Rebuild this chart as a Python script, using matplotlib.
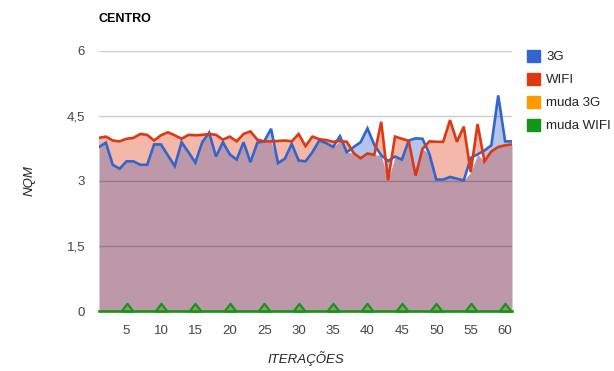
import numpy as np
import matplotlib
matplotlib.use("Agg")
import matplotlib.pyplot as plt
from matplotlib.patches import Patch

plt.rcParams['font.family'] = ['Liberation Sans', 'DejaVu Sans']

# NQM per iteration, measured in the city centre
iteracoes = list(range(1, 62))
nqm_3g = [3.78, 3.88, 3.37, 3.28, 3.45, 3.45, 3.37, 3.37, 3.84, 3.84,
          3.59, 3.34, 3.89, 3.66, 3.42, 3.89, 4.11, 3.56, 3.89, 3.61,
          3.49, 3.89, 3.43, 3.88, 3.91, 4.20, 3.41, 3.51, 3.85, 3.47,
          3.45, 3.66, 3.93, 3.87, 3.78, 4.03, 3.66, 3.78, 3.89, 4.21,
          3.83, 3.59, 3.46, 3.56, 3.49, 3.93, 3.98, 3.97, 3.62, 3.03,
          3.03, 3.09, 3.05, 3.01, 3.53, 3.61, 3.70, 3.82, 4.97, 3.91,
          3.91]
nqm_wifi = [3.99, 4.02, 3.93, 3.91, 3.97, 3.99, 4.08, 4.06, 3.93, 4.05,
            4.12, 4.05, 3.97, 4.06, 4.05, 4.06, 4.08, 4.06, 3.95, 4.02,
            3.91, 4.08, 4.14, 3.95, 3.91, 3.91, 3.92, 3.93, 3.91, 4.08,
            3.80, 4.02, 3.96, 3.94, 3.90, 3.92, 3.90, 3.64, 3.52, 3.63,
            3.60, 4.36, 3.01, 4.02, 3.97, 3.92, 3.12, 3.74, 3.91, 3.90,
            3.90, 4.40, 3.90, 4.25, 3.20, 4.31, 3.45, 3.68, 3.78, 3.82,
            3.84]
muda_3g = [0] * 61
muda_wifi = [0] * 61
# iterations where a network change check was flagged
muda_x = [5, 10, 15, 20, 25, 30, 35, 40, 45, 50, 55, 60]
muda_y = [0] * 12

yticks = [0, 1.5, 3, 4.5, 6]
ytick_labels = ['0', '1,5', '3', '4,5', '6']
xticks = [5, 10, 15, 20, 25, 30, 35, 40, 45, 50, 55, 60]

c_3g = '#3366cc'
c_wifi = '#dc3912'
c_m3g = '#ff9900'
c_mwifi = '#109618'

fig = plt.figure(figsize=(6.14, 3.71), dpi=100)
ax = fig.add_axes([99 / 614, 60 / 371, 413 / 614, 260.3 / 371])

x = np.array(iteracoes, dtype=float)
b = np.array(nqm_3g)
r = np.array(nqm_wifi)

# shaded areas: common part, then whichever series is on top
ax.fill_between(x, 0, np.minimum(b, r), color='#bd98a8', lw=0, zorder=1)
ax.fill_between(x, r, b, where=b >= r, interpolate=True, color='#b3c5ea', lw=0, zorder=1)
ax.fill_between(x, b, r, where=r >= b, interpolate=True, color='#f3b8aa', lw=0, zorder=1)

for yv in yticks:
    ax.axhline(yv, color='black', alpha=0.2, lw=1, zorder=2)

ax.plot(x, b, color=c_3g, lw=1.9, zorder=3, solid_joinstyle='miter')
ax.plot(x, r, color=c_wifi, lw=1.9, zorder=4, solid_joinstyle='miter')
ax.plot(x, muda_3g, color=c_m3g, lw=1.9, zorder=5)
ax.plot(x, muda_wifi, color=c_mwifi, lw=1.9, zorder=6, clip_on=False)

tri = [(-1, 0), (1, 0), (0, 1.3), (-1, 0)]
ax.plot(muda_x, muda_y, ls='none', marker=tri, ms=11,
        mfc=(0.55, 0.55, 0.35, 0.6), mec=c_mwifi, mew=1.6, zorder=7, clip_on=False)

ax.set_xlim(1, 61)
ax.set_ylim(0, 6)
ax.set_yticks(yticks)
ax.set_yticklabels(ytick_labels)
ax.set_xticks(xticks)
ax.tick_params(length=0, pad=10, labelsize=9.5, labelcolor='#444444')
for s in ax.spines.values():
    s.set_visible(False)

ax.set_xlabel('ITERAÇÕES', fontsize=9.5, style='italic', color='#222222', va='center')
ax.xaxis.set_label_coords(0.5, (311 - 359) / 260.3)
ax.set_ylabel('NQM', fontsize=9.5, style='italic', color='#222222', va='center')
ax.yaxis.set_label_coords((30 - 99) / 413, 0.5)

ax.text(0, (311 - 19) / 260.3, 'CENTRO', transform=ax.transAxes, fontsize=9,
        fontweight='bold', va='center', ha='left')

handles = [Patch(color=c) for c in (c_3g, c_wifi, c_m3g, c_mwifi)]
fig.legend(handles, ['3G', 'WIFI', 'muda 3G', 'muda WIFI'],
           loc='upper left', bbox_to_anchor=(527 / 614, 1 - 50 / 371),
           frameon=False, fontsize=9.5, handlelength=1.0, handleheight=1.0,
           handletextpad=0.45, labelspacing=0.72, borderpad=0, borderaxespad=0,
           labelcolor='#222222')

fig.savefig('out.png', dpi=100)
